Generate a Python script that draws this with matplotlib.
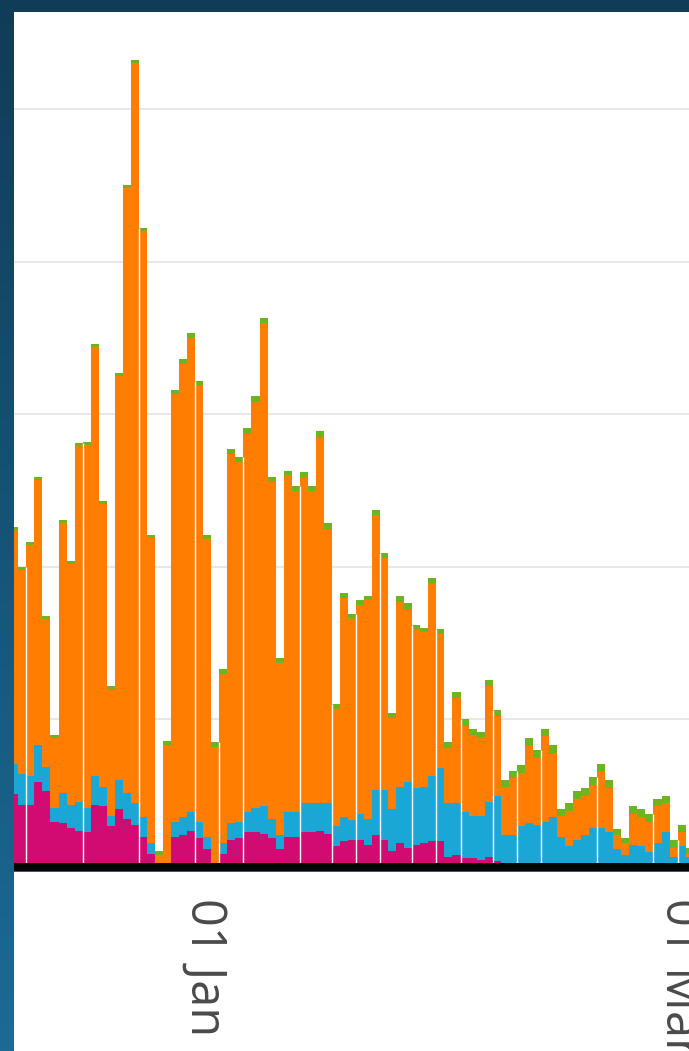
"""Stacked daily bars, Dec 2021 - Mar 2022 (cropped view)."""

import matplotlib

matplotlib.use("Agg")
import matplotlib.dates as mdates
import matplotlib.pyplot as plt
import matplotlib.transforms as mtransforms
import numpy as np
import pandas as pd

# --- data: one bar per day, starting 07 Dec 2021 ---
start_date = "2021-12-07"

magenta = [
    51, 44, 44, 59, 53, 33, 32, 29, 27, 26,
    44, 43, 30, 41, 35, 31, 23, 12, 0, 0,
    23, 24, 27, 22, 15, 0, 12, 21, 22, 26,
    26, 25, 22, 15, 23, 23, 26, 26, 27, 25,
    17, 20, 21, 21, 18, 24, 21, 14, 19, 16,
    18, 19, 20, 20, 10, 11, 9, 9, 8, 10,
    7, 6, 3, 5, 5, 5, 5, 4, 2, 1,
    1, 0, 0, 0, 0, 0, 0, 0, 0, 0,
    0, 0, 0, 0, 0,
]
cyan = [
    20, 20, 19, 24, 16, 9, 20, 15, 19, 16,
    19, 13, 7, 19, 17, 14, 13, 7, 2, 5,
    10, 12, 12, 11, 8, 3, 7, 11, 11, 13,
    16, 18, 13, 9, 16, 16, 19, 19, 18, 20,
    13, 16, 13, 17, 17, 30, 33, 27, 37, 43,
    37, 37, 43, 48, 35, 34, 30, 28, 29, 36,
    43, 18, 21, 25, 27, 26, 28, 32, 21, 16,
    20, 24, 29, 29, 26, 15, 11, 18, 17, 13,
    19, 26, 10, 17, 10,
]
orange = [
    153, 134, 151, 174, 97, 46, 177, 158, 233, 238,
    281, 185, 83, 265, 396, 485, 384, 200, 9, 78,
    280, 297, 311, 286, 195, 79, 111, 242, 236, 248,
    266, 317, 221, 113, 221, 211, 214, 205, 240, 180,
    77, 144, 132, 137, 143, 180, 152, 60, 121, 113,
    104, 101, 126, 88, 36, 69, 57, 53, 51, 76,
    52, 32, 38, 35, 51, 44, 56, 42, 14, 23,
    27, 26, 28, 37, 29, 9, 8, 20, 19, 20,
    24, 19, 6, 9, 2,
]
green = [
    2, 2, 2, 2, 2, 2, 2, 2, 2, 2,
    2, 2, 2, 2, 2, 2, 2, 2, 3, 3,
    3, 3, 3, 3, 3, 3, 3, 3, 3, 4,
    4, 3, 3, 3, 3, 3, 3, 3, 4, 4,
    3, 3, 3, 3, 3, 3, 3, 3, 4, 4,
    3, 3, 4, 3, 4, 4, 4, 4, 4, 4,
    4, 4, 4, 5, 5, 5, 5, 5, 4, 5,
    5, 5, 5, 5, 5, 4, 3, 5, 5, 5,
    5, 5, 5, 5, 4,
]

tick_dates = ["2022-01-01", "2022-03-01"]
tick_labels = ["01 Jan", "01 Mar"]
grid_values = [100, 200, 300, 400, 500]

# thin white seams that show between some of the bars
seam_dates = [
    "2021-12-09", "2021-12-16", "2021-12-23", "2021-12-30", "2022-01-02",
    "2022-01-05", "2022-01-12", "2022-01-16", "2022-01-19", "2022-01-22",
    "2022-01-26", "2022-01-29", "2022-02-01", "2022-02-05", "2022-02-08",
    "2022-02-11", "2022-02-18", "2022-02-25", "2022-02-28",
]

COLORS = {
    "magenta": "#d10b72",
    "cyan": "#1aa7d6",
    "orange": "#ff7d00",
    "green": "#6db51f",
}

dates = pd.date_range(start_date, periods=len(orange), freq="D")

W, H = 689, 1051
fig = plt.figure(figsize=(W / 100, H / 100), dpi=100)
fig.patch.set_facecolor("white")

# dark blue frame (left and top edges), vertical gradient
bg = fig.add_axes([0, 0, 1, 1], zorder=-10)
grad = np.linspace(0, 1, 256).reshape(-1, 1)
cmap = matplotlib.colors.LinearSegmentedColormap.from_list(
    "frame", ["#103c57", "#1b6b96"]
)
bg.imshow(grad, aspect="auto", cmap=cmap, extent=[0, 1, 0, 1], origin="upper")
bg.add_patch(
    plt.Rectangle((14 / W, 0), 1 - 14 / W, 1 - 12 / H, color="white", lw=0)
)
bg.set_xlim(0, 1)
bg.set_ylim(0, 1)
bg.axis("off")

ax = fig.add_axes([14 / W, (H - 872) / H, 1 - 14 / W, (872 - 12) / H])
ax.set_facecolor("white")

bottom = np.zeros(len(dates))
for name, values in [
    ("magenta", magenta),
    ("cyan", cyan),
    ("orange", orange),
    ("green", green),
]:
    ax.bar(
        dates,
        values,
        width=1.0,
        align="edge",
        bottom=bottom,
        color=COLORS[name],
        linewidth=0,
        antialiased=False,
        zorder=2,
    )
    bottom = bottom + np.array(values)
totals = pd.Series(bottom, index=dates)

# seams run up to the lower of the two neighbouring bars
for d in pd.to_datetime(seam_dates):
    left = totals.get(d - pd.Timedelta(days=1), 0)
    right = totals.get(d, 0)
    ax.vlines(d, 0, min(left, right), color="white", linewidth=1.0, zorder=3)

# heavy black zero line with a thin magenta rule beneath it
ax.axhspan(0.65, 5.9, color="#050505", lw=0, zorder=4)
ax.axhspan(0, 0.65, color=COLORS["magenta"], lw=0, zorder=4)

x0 = mdates.date2num(pd.Timestamp(start_date))
ax.set_xlim(x0 + 0.46, x0 + 84.42)
ax.set_ylim(0, 563.6)

ax.set_yticks(grid_values)
ax.set_yticklabels([])
ax.tick_params(axis="y", length=0)
ax.grid(axis="y", color="#e8e8e8", linewidth=1.5, zorder=0)
ax.set_axisbelow(True)

ax.set_xticks(pd.to_datetime(tick_dates))
ax.set_xticklabels(
    tick_labels, rotation=-90, fontsize=35, family="Open Sans", color="#4a4a4a"
)
ax.tick_params(axis="x", length=0, pad=19)
shift = mtransforms.ScaledTranslation(-7 / 100, 0, fig.dpi_scale_trans)
for lbl in ax.get_xticklabels():
    lbl.set_transform(lbl.get_transform() + shift)

for s in ax.spines.values():
    s.set_visible(False)

fig.savefig("out.png", dpi=100)
